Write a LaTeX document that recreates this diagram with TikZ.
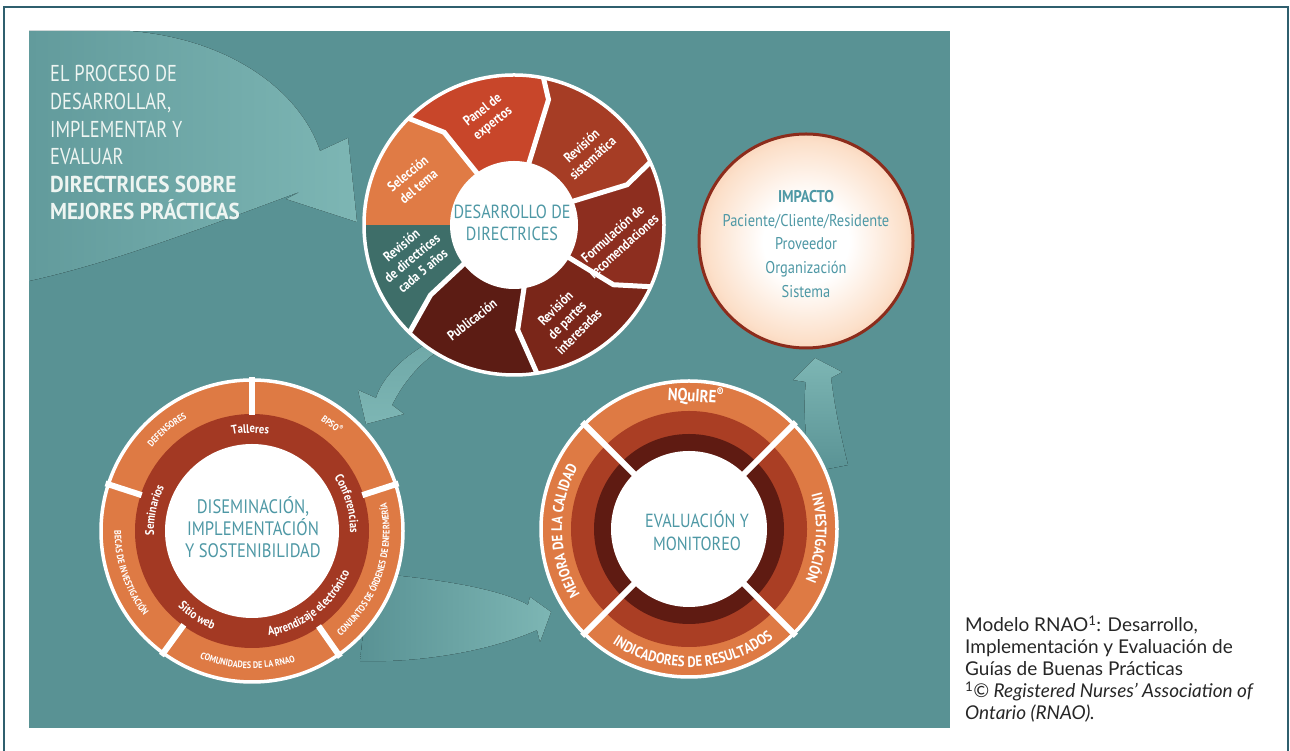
\documentclass[tikz,border=0pt]{standalone}
\usepackage{fontspec}
\setmainfont{PT Sans}
\newfontfamily\cond[FakeStretch=0.85]{PT Sans}
\newfontfamily\xcond[FakeStretch=0.8]{PT Sans}
\newfontfamily\xcondb[FakeStretch=0.92]{PT Sans}
\newfontfamily\capfont{Lato}
\usetikzlibrary{decorations.text}
\definecolor{bgteal}{RGB}{89,146,148}
\definecolor{arrowlight}{RGB}{125,182,180}
\definecolor{titlewhite}{RGB}{238,245,242}
\definecolor{centreteal}{RGB}{78,152,165}
\definecolor{framecol}{RGB}{47,95,110}
\definecolor{segSel}{RGB}{224,123,69}
\definecolor{segPanel}{RGB}{200,70,42}
\definecolor{segSis}{RGB}{166,61,37}
\definecolor{segForm}{RGB}{141,46,31}
\definecolor{segPartes}{RGB}{122,38,25}
\definecolor{segPubl}{RGB}{92,28,20}
\definecolor{segRev}{RGB}{62,110,105}
\definecolor{ringorange}{RGB}{222,122,68}
\definecolor{leftred}{RGB}{163,57,35}
\definecolor{evalred}{RGB}{170,62,36}
\definecolor{evaldark}{RGB}{95,27,18}
\definecolor{impactborder}{RGB}{140,44,28}
\definecolor{impactpeach}{RGB}{252,224,202}
\definecolor{impactmid}{RGB}{242,176,136}
\definecolor{impactorange}{RGB}{228,135,90}
\definecolor{impactdeep}{RGB}{214,114,74}
\pgfdeclareradialshading{impactshade}{\pgfpoint{0bp}{0bp}}{color(0bp)=(white); color(10bp)=(white); color(23bp)=(impactpeach); color(35bp)=(impactmid); color(45bp)=(impactorange); color(50bp)=(impactdeep)}
\newcommand\rsmall{\cond\bfseries\fontsize{9.5}{10}\selectfont}
\newcommand\rmed{\cond\bfseries\fontsize{12.5}{13}\selectfont}
\newcommand\rbig{\cond\bfseries\fontsize{15}{16}\selectfont}
\tikzset{
  seglabel/.style={text=white, font=\cond\bfseries\fontsize{14}{16.5}\selectfont, align=center, inner sep=0pt},
  centertext/.style={text=centreteal, font=\cond\fontsize{19}{22.5}\selectfont, align=center, inner sep=0pt},
  titleline/.style={anchor=base west, text=titlewhite, font=\xcond\fontsize{23}{27}\selectfont, inner sep=0pt},
  titlebold/.style={anchor=base west, text=titlewhite, font=\xcondb\bfseries\fontsize{23}{27}\selectfont, inner sep=0pt},
  impactline/.style={anchor=base, text=centreteal, font=\cond\fontsize{17}{20}\selectfont, inner sep=0pt},
  caption/.style={anchor=base west, inner sep=0pt, text=black!85, font=\capfont\fontsize{19}{22}\selectfont},
  ringnode/.style={text=white, inner sep=0pt},
  sepline/.style={white, line width=5pt},
  rim/.style={white, line width=3.5pt},
  swoosh/.style={draw=none}
}
\begin{document}
\begin{tikzpicture}[x=1pt,y=1pt]
\useasboundingbox (0,0) rectangle (1290,751);
% frame
\draw[framecol, line width=1.5pt] (4,0) -- (4,744) -- (1288,744) -- (1288,0);
% panel
\fill[bgteal] (29,23) rectangle (950,720);
\coordinate (c0) at (514,526);
\coordinate (c1) at (252,220);
\coordinate (c2) at (689,222);
\coordinate (c3) at (806,510);
% swoosh arrows
\fill[swoosh, left color=bgteal!75!arrowlight, right color=arrowlight]
  (130,720) .. controls (230,712) and (300,660) .. (320,600) -- (348,613) -- (357,529) -- (286,552) -- (302,560)
  .. controls (220,530) and (120,490) .. (29,470) -- (29,720) -- cycle;
\fill[swoosh, top color=bgteal!40!arrowlight, bottom color=arrowlight]
  (428,408) .. controls (400,392) and (382,372) .. (376,353) -- (358,361) -- (366,327) -- (404,337) -- (392,346)
  .. controls (405,372) and (425,395) .. (455,410) -- cycle;
\fill[swoosh, left color=bgteal, right color=arrowlight]
  (370,178) .. controls (440,172) and (500,162) .. (528,146) -- (530,154) -- (551,139) -- (540,109) -- (537,121)
  .. controls (490,100) and (420,88) .. (360,90) -- cycle;
\fill[swoosh, bottom color=bgteal, top color=arrowlight]
  (812,279) .. controls (805,310) and (803,345) .. (806,369) -- (793,371) -- (815,393) -- (842,379) -- (831,373)
  .. controls (835,340) and (842,310) .. (848,286) -- cycle;
% title
\node[titleline] (t1) at (50,669) {EL PROCESO DE};
\node[titleline] (t2) at (50,641) {DESARROLLAR,};
\node[titleline] (t3) at (50,613) {IMPLEMENTAR Y};
\node[titleline] (t4) at (50,586) {EVALUAR};
\node[titlebold] (t5) at (50,558) {DIRECTRICES SOBRE};
\node[titlebold] (t6) at (50,531) {MEJORES PRÁCTICAS};
% ===== top circle: desarrollo =====
\begin{scope}[shift={(c0)}]
  \begin{scope}
    \clip (0,0) circle (150);
    \fill[segPanel] (135:175) -- (135:152) -- (127:116) -- (125:55) -- (0,0) -- (77:55) -- (74.6:130) -- (79:152) -- (79:175) arc[start angle=79, end angle=135, radius=175] -- cycle;
    \fill[segSis] (79:175) -- (79:152) -- (74.6:130) -- (77:55) -- (0,0) -- (22.7:55) -- (19.6:120) -- (25:152) -- (25:175) arc[start angle=25, end angle=79, radius=175] -- cycle;
    \fill[segForm] (25:175) -- (25:152) -- (19.6:120) -- (22.7:55) -- (0,0) -- (-30.6:55) -- (-31:116) -- (-24:152) -- (-24:175) arc[start angle=-24, end angle=25, radius=175] -- cycle;
    \fill[segPartes] (-24:175) -- (-24:152) -- (-31:116) -- (-30.6:55) -- (0,0) -- (-78:55) -- (-88:105) -- (-81:152) -- (-81:175) arc[start angle=-81, end angle=-24, radius=175] -- cycle;
    \fill[segPubl] (-81:175) -- (-81:152) -- (-88:105) -- (-78:55) -- (0,0) -- (-143:55) -- (-140:109) -- (-134:152) -- (-134:175) arc[start angle=-134, end angle=-81, radius=175] -- cycle;
    \fill[segRev] (-134:175) -- (-134:152) -- (-140:109) -- (-143:55) -- (0,0) -- (180:55) -- (180:175) arc[start angle=-180, end angle=-134, radius=175] -- cycle;
    \fill[segSel] (180:175) -- (180:55) -- (0,0) -- (125:55) -- (127:116) -- (135:152) -- (135:175) arc[start angle=135, end angle=180, radius=175] -- cycle;
    \draw[sepline] (135:175) -- (135:152) -- (127:116) -- (125:55);
    \draw[sepline] (79:175) -- (79:152) -- (74.6:130) -- (77:55);
    \draw[sepline] (25:175) -- (25:152) -- (19.6:120) -- (22.7:55);
    \draw[sepline] (-24:175) -- (-24:152) -- (-31:116) -- (-30.6:55);
    \draw[sepline] (-81:175) -- (-81:152) -- (-88:105) -- (-78:55);
    \draw[sepline] (-134:175) -- (-134:152) -- (-140:109) -- (-143:55);
  \end{scope}
  \draw[rim] (0,0) circle (150);
  \fill[white] (0,0) circle (64);
\end{scope}
\node[seglabel, rotate=40] (sel) at (413,571) {Selección\\del tema};
\node[seglabel, rotate=38] (panel) at (488,634) {Panel de\\expertos};
\node[seglabel, rotate=42] (revsis) at (587,599) {Revisión\\sistemática};
\node[seglabel, rotate=42] (form) at (618,511) {Formulación de\\recomendaciones};
\node[seglabel, rotate=45] (partes) at (567,431) {Revisión\\de partes\\interesadas};
\node[seglabel, rotate=38] (publ) at (472,431) {Publicación};
\node[seglabel, rotate=40] (revdir) at (412,493) {Revisión\\de directrices\\cada 5 años};
\node[centertext] (desarrollo) at (512,528) {DESARROLLO DE\\DIRECTRICES};
% ===== impact circle =====
\node[circle, minimum size=214pt, inner sep=0pt, draw=impactborder, line width=3pt, shading=impactshade] (impact) at (c3) {};
\node[impactline, font=\cond\bfseries\fontsize{17}{20}\selectfont] (imp1) at (806,548) {IMPACTO};
\node[impactline] (imp2) at (806,524) {Paciente/Cliente/Residente};
\node[impactline] (imp3) at (806,501) {Proveedor};
\node[impactline] (imp4) at (806,477) {Organización};
\node[impactline] (imp5) at (806,453) {Sistema};
% ===== left circle: diseminacion =====
\fill[ringorange] (c1) circle (151);
\fill[leftred] (c1) circle (117);
\fill[white] (c1) circle (87);
\foreach \a in {90,18,-55,-126,162} \draw[white, line width=6pt] ([shift={(c1)}]\a:116) -- ([shift={(c1)}]\a:154);
\draw[rim] (c1) circle (151);
\path[decorate, decoration={text along path, text align=center, text color=white, text={|\rsmall|DEFENSORES}}] ([shift={(c1)}]165:130.5) arc[start angle=165, end angle=95, radius=130.5];
\node[ringnode, rotate=-37, font=\rsmall] (bpso) at ([shift={(c1)}]53:134) {BPSO\textsuperscript{®}};
\path[decorate, decoration={text along path, text align=center, text color=white, text={|\rsmall|CONJUNTOS DE ÓRDENES DE ENFERMERÍA}}] ([shift={(c1)}]-60:137.5) arc[start angle=-60, end angle=22, radius=137.5];
\path[decorate, decoration={text along path, text align=center, text color=white, text={|\rsmall|COMUNIDADES DE LA RNAO}}] ([shift={(c1)}]-124:137.5) arc[start angle=-124, end angle=-60, radius=137.5];
\path[decorate, decoration={text along path, text align=center, text color=white, text={|\rsmall|BECAS DE INVESTIGACIÓN}}] ([shift={(c1)}]164:137.5) arc[start angle=164, end angle=234, radius=137.5];
\path[decorate, decoration={text along path, text align=center, text color=white, text={|\rmed|Talleres}}] ([shift={(c1)}]121:98) arc[start angle=121, end angle=61, radius=98];
\path[decorate, decoration={text along path, text align=center, text color=white, text={|\rmed|Conferencias}}] ([shift={(c1)}]56:98) arc[start angle=56, end angle=-24, radius=98];
\path[decorate, decoration={text along path, text align=center, text color=white, text={|\rmed|Aprendizaje electrónico}}] ([shift={(c1)}]-100:106) arc[start angle=-100, end angle=-4, radius=106];
\path[decorate, decoration={text along path, text align=center, text color=white, text={|\rmed|Sitio web}}] ([shift={(c1)}]-150:106) arc[start angle=-150, end angle=-96, radius=106];
\path[decorate, decoration={text along path, text align=center, text color=white, text={|\rmed|Seminarios}}] ([shift={(c1)}]200:98) arc[start angle=200, end angle=136, radius=98];
\node[centertext, font=\cond\fontsize{19.5}{22}\selectfont] (disem) at (253,224) {DISEMINACIÓN,\\IMPLEMENTACIÓN\\Y SOSTENIBILIDAD};
% ===== eval circle =====
\fill[ringorange] (c2) circle (148);
\fill[evalred] (c2) circle (118);
\fill[evaldark] (c2) circle (95);
\fill[white] (c2) circle (78);
\foreach \a in {45,135,-45,-135} \draw[white, line width=6pt] ([shift={(c2)}]\a:74) -- ([shift={(c2)}]\a:151);
\draw[rim] (c2) circle (148);
\node[ringnode, rotate=-3, font=\cond\bfseries\fontsize{17.5}{18}\selectfont] (nquire) at ([shift={(c2)}]87:133) {NQuIRE\textsuperscript{®}};
\path[decorate, decoration={text along path, text align=center, text color=white, text={|\rbig|INVESTIGACIÓN}}] ([shift={(c2)}]36:127) arc[start angle=36, end angle=-44, radius=127];
\path[decorate, decoration={text along path, text align=center, text color=white, text={|\rbig|INDICADORES DE RESULTADOS}}] ([shift={(c2)}]-136:138) arc[start angle=-136, end angle=-40, radius=138];
\path[decorate, decoration={text along path, text align=center, text color=white, text={|\rbig|MEJORA DE LA CALIDAD}}] ([shift={(c2)}]226:127) arc[start angle=226, end angle=136, radius=127];
\node[centertext] (evalmon) at (697,220) {EVALUACIÓN Y\\MONITOREO};
% caption
\node[caption] (cap1) at (965,119) {Modelo RNAO\textsuperscript{1}: Desarrollo,};
\node[caption] (cap2) at (965,97) {Implementación y Evaluación de};
\node[caption] (cap3) at (965,75) {Guías de Buenas Prácticas};
\node[caption] (cap4) at (965,53) {\textsuperscript{1}\textit{© Registered Nurses’ Association of}};
\node[caption] (cap5) at (965,31) {\textit{Ontario (RNAO).}};
\end{tikzpicture}
\end{document}
